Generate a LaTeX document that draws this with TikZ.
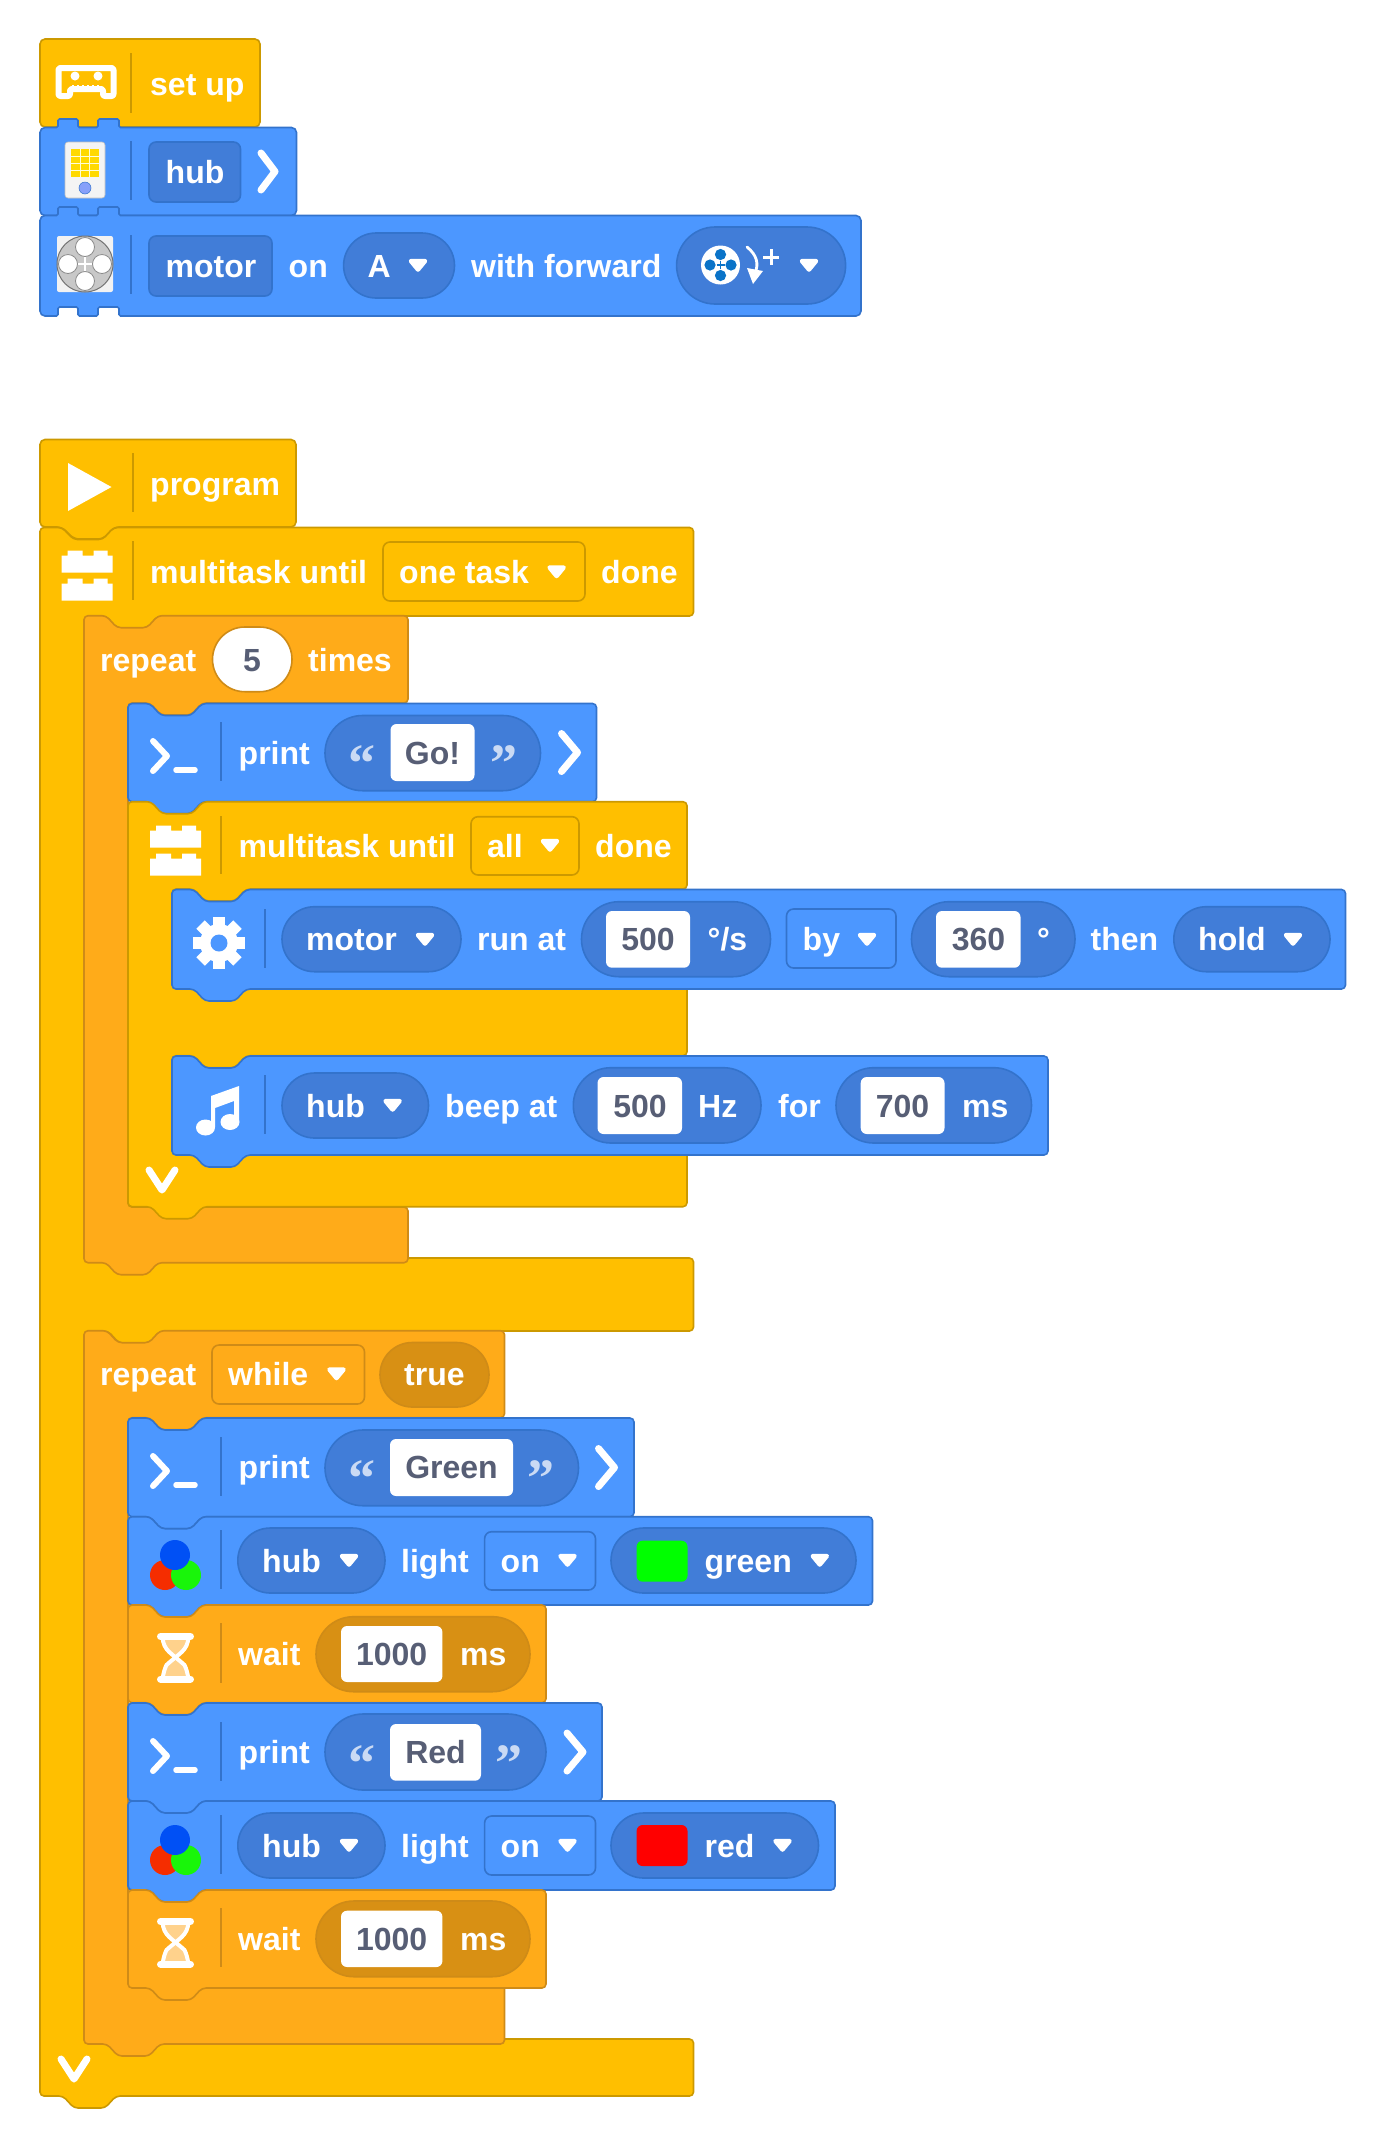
\documentclass[tikz,border=0pt]{standalone}
\usepackage{fontspec}
\setmainfont{Liberation Sans}
\newfontfamily\quotefont{Liberation Serif}
\usetikzlibrary{calc}
\definecolor{yel}{HTML}{FFBF00}
\definecolor{yelo}{HTML}{CC9900}
\definecolor{ora}{HTML}{FFAB19}
\definecolor{orao}{HTML}{CF8B17}
\definecolor{blu}{HTML}{4C97FF}
\definecolor{bluo}{HTML}{3373CC}
\definecolor{blud}{HTML}{417DD8}
\definecolor{orad}{HTML}{D89014}
\definecolor{ink}{HTML}{575E75}
\tikzset{
  yblock/.style={fill=yel,draw=yelo,line width=1.6pt},
  oblock/.style={fill=ora,draw=orao,line width=1.6pt},
  bblock/.style={fill=blu,draw=bluo,line width=1.6pt},
  wlabel/.style={text=white,font=\fontsize{32}{36}\selectfont\bfseries,inner sep=0pt,anchor=base west},
  dlabel/.style={text=ink,font=\fontsize{32}{36}\selectfont\bfseries,inner sep=0pt,anchor=base},
  qlabel/.style={text=white,opacity=.72,font=\fontsize{54}{60}\quotefont\bfseries,inner sep=0pt,anchor=base},
  sepy/.style={draw=yelo,line width=1.4pt},
  sepo/.style={draw=orao,line width=1.4pt},
  sepb/.style={draw=bluo,line width=1.4pt},
  bluepill/.style={fill=blud,draw=bluo,line width=1.6pt},
  orapill/.style={fill=orad,draw=orao,line width=1.6pt},
  whitepill/.style={fill=white,draw=orao,line width=1.6pt},
  bluefield/.style={fill=blu,draw=bluo,line width=1.6pt},
  yelfield/.style={fill=yel,draw=yelo,line width=1.6pt},
  orafield/.style={fill=ora,draw=orao,line width=1.6pt},
  darkfield/.style={fill=blud,draw=bluo,line width=1.6pt},
  inputbox/.style={fill=white,rounded corners=6pt},
  whitestroke/.style={draw=white,line width=7pt,line cap=round,line join=round},
}
\newcommand\stackbk[5]{% style L T R B
  \draw[#1,rounded corners=4pt] ({#2},{#5-10}) -- ({#2},{#3}) -- ({#2+22},{#3}) -- ({#2+33},{#3+12}) -- ({#2+63},{#3+12}) -- ({#2+74},{#3}) -- ({#4},{#3}) -- ({#4},{#5}) -- ({#2+74},{#5}) -- ({#2+63},{#5+12}) -- ({#2+33},{#5+12}) -- ({#2+22},{#5}) -- ({#2},{#5}) -- cycle;}
\newcommand\pillbox[5]{\pgfmathsetmacro\pr{(#5-#3)/2}\draw[#1,rounded corners=\pr pt] (#2,#3) rectangle (#4,#5);}
\newcommand\fieldbox[5]{\draw[#1,rounded corners=7pt] (#2,#3) rectangle (#4,#5);}
\newcommand\inbox[4]{\fill[inputbox] (#1,#2) rectangle (#3,#4);}
\newcommand\dropa[2]{\draw[white,fill=white,line width=4.5pt,line join=round] ({#1-7},{#2-4.5}) -- ({#1+7},{#2-4.5}) -- ({#1},{#2+4}) -- cycle;}
\newcommand\wtext[4]{\node[wlabel] (#1) at (#2,#3) {#4};}
\newcommand\dtext[4]{\node[dlabel] (#1) at (#2,#3) {#4};}
\newcommand\qtext[4]{\node[qlabel] (#1) at (#2,#3) {#4};}
\newcommand\chevr[2]{\draw[whitestroke] ({#1-8},{#2-19}) -- ({#1+8},{#2}) -- ({#1-8},{#2+19});}
\newcommand\chevd[2]{\draw[whitestroke] ({#1-13},{#2-10}) -- ({#1},{#2+10}) -- ({#1+13},{#2-10});}
\newcommand\consoleicon[2]{% x = left of chevron, y = center
  \draw[draw=white,line width=6pt,line cap=round,line join=round] ({#1+4},{#2-14}) -- ({#1+18},{#2+1}) -- ({#1+4},{#2+16});
  \draw[draw=white,line width=5.5pt,line cap=round] ({#1+27},{#2+15}) -- ({#1+46},{#2+15});}
\newcommand\brickicon[2]{% x left, y top
  \fill[white] ({#1},{#2+5}) -- ({#1+6},{#2+5}) -- ({#1+6},{#2}) -- ({#1+21},{#2}) -- ({#1+21},{#2+5}) -- ({#1+32},{#2+5}) -- ({#1+32},{#2}) -- ({#1+46},{#2}) -- ({#1+46},{#2+5}) -- ({#1+51},{#2+5}) -- ({#1+51},{#2+22}) -- ({#1},{#2+22}) -- cycle;
  \fill[white] ({#1},{#2+33}) -- ({#1+6},{#2+33}) -- ({#1+6},{#2+28}) -- ({#1+21},{#2+28}) -- ({#1+21},{#2+33}) -- ({#1+32},{#2+33}) -- ({#1+32},{#2+28}) -- ({#1+46},{#2+28}) -- ({#1+46},{#2+33}) -- ({#1+51},{#2+33}) -- ({#1+51},{#2+50}) -- ({#1},{#2+50}) -- cycle;}
\newcommand\rgbicon[2]{% center x of blue, center y of blue
  \fill[fill={rgb,255:red,245;green,45;blue,0}] ({#1-10},{#2+20}) ellipse [x radius=15,y radius=15];
  \fill[fill={rgb,255:red,25;green,245;blue,10}] ({#1+11},{#2+20}) ellipse [x radius=15,y radius=15];
  \fill[fill={rgb,255:red,0;green,80;blue,245}] ({#1},{#2}) ellipse [x radius=15,y radius=15];}
\newcommand\hglass[2]{% center x, top y
  \fill[fill={rgb,255:red,255;green,210;blue,140}] ({#1-14},{#2+4}) .. controls ({#1-12},{#2+14}) and ({#1-6},{#2+20}) .. ({#1},{#2+25}) .. controls ({#1+6},{#2+20}) and ({#1+12},{#2+14}) .. ({#1+14},{#2+4}) -- cycle;
  \fill[fill={rgb,255:red,255;green,210;blue,140}] ({#1-14},{#2+46}) .. controls ({#1-12},{#2+36}) and ({#1-6},{#2+30}) .. ({#1},{#2+25}) .. controls ({#1+6},{#2+30}) and ({#1+12},{#2+36}) .. ({#1+14},{#2+46}) -- cycle;
  \draw[draw=white,line width=4pt] ({#1-13},{#2+4}) .. controls ({#1-12},{#2+18}) and ({#1-4},{#2+20}) .. ({#1+9},{#2+32}) .. controls ({#1+11},{#2+36}) and ({#1+12},{#2+40}) .. ({#1+13},{#2+46});
  \draw[draw=white,line width=4pt] ({#1+13},{#2+4}) .. controls ({#1+12},{#2+18}) and ({#1+4},{#2+20}) .. ({#1-9},{#2+32}) .. controls ({#1-11},{#2+36}) and ({#1-12},{#2+40}) .. ({#1-13},{#2+46});
  \draw[draw=white,line width=7pt,line cap=round] ({#1-15},{#2+3.5}) -- ({#1+15},{#2+3.5});
  \draw[draw=white,line width=7pt,line cap=round] ({#1-15},{#2+46}) -- ({#1+15},{#2+46});}
\begin{document}
\begin{tikzpicture}[x=1pt,y=-1pt]
\fill[white] (0,0) rectangle (1385,2148);
\useasboundingbox (0,0) rectangle (1385,2148);

%%%% SET UP STACK
\draw[yblock,rounded corners=5pt] (40,60) -- (40,39) -- (260,39) -- (260,127) -- (40,127) -- cycle;
\draw[sepy] (131,53) -- (131,113);
\draw[draw=white,line width=6pt,line join=round,rounded corners=2pt] (70,96) -- (58.5,96) -- (58.5,68) -- (113.5,68) -- (113.5,96) -- (103,96) -- (103,89) -- (70,89) -- cycle;
\fill[white] (75,76) circle [radius=4.5];
\fill[white] (98,76) circle [radius=4.5];
\foreach \tx in {73,78,83,88,93,98} {\draw[white,line width=1.2pt] (\tx,85) -- (\tx,89);}
\wtext{setup}{150}{95}{set up}

\draw[bblock,rounded corners=5pt] (40,140) -- (40,127.5) [rounded corners=1.5pt] -- (58,127.5) -- (58,119) -- (78,119) -- (78,127.5) -- (98,127.5) -- (98,119) -- (119,119) -- (119,127.5) [rounded corners=5pt] -- (296.5,127.5) -- (296.5,215.5) -- (40,215.5) -- cycle;
\draw[sepb] (131,141) -- (131,200);
\draw[fill={rgb,255:red,244;green,244;blue,244},draw=black!25,line width=.6pt,rounded corners=3pt] (65,142) rectangle (105,198);
\fill[fill={rgb,255:red,255;green,217;blue,0}] (71,149) rectangle (98.5,177);
\foreach \gx in {80,89.5} {\draw[white!85!yellow,line width=.7pt] (\gx,149) -- (\gx,177);}
\foreach \gy in {156,163,170} {\draw[white!85!yellow,line width=.7pt] (71,\gy) -- (98.5,\gy);}
\draw[fill={rgb,255:red,135;green,160;blue,250},draw=bluo,line width=.5pt] (85,188) circle [radius=6];
\fieldbox{darkfield}{149}{142}{240.5}{202}
\wtext{hubtop}{165.5}{183}{hub}
\draw[draw=white,line width=7pt,line cap=round,line join=round] (261,153) -- (275,171.5) -- (261,190);

\draw[bblock,rounded corners=5pt] (40,230) -- (40,215.5) [rounded corners=1.5pt] -- (58,215.5) -- (58,207) -- (78,207) -- (78,215.5) -- (98,215.5) -- (98,207) -- (119,207) -- (119,215.5) [rounded corners=5pt] -- (861,215.5) -- (861,316) [rounded corners=1.5pt] -- (119,316) -- (119,307) -- (98,307) -- (98,316) -- (78,316) -- (78,307) -- (58,307) -- (58,316) [rounded corners=5pt] -- (40,316) -- cycle;
\draw[sepb] (131,235) -- (131,294);
\fill[fill={rgb,255:red,242;green,242;blue,242},rounded corners=2pt] (57,236) rectangle (113,292);
\draw[fill={rgb,255:red,200;green,200;blue,200},draw=black!55,line width=1pt] (85,264) circle [radius=28];
\foreach \ox/\oy in {0/-17,0/17,-17/0,17/0} {\draw[fill=white,draw=black!45,line width=.8pt] ($(85,264)+(\ox,\oy)$) circle [radius=9.5];}
\draw[white,line width=2.4pt] (78,264) -- (92,264);
\draw[white,line width=2.4pt] (85,257) -- (85,271);
\fieldbox{darkfield}{149}{236}{272}{296}
\wtext{mot1}{165.5}{277}{motor}
\wtext{on1}{288.5}{277}{on}
\pillbox{bluepill}{343.6}{233}{454.5}{298}
\wtext{afield}{367.5}{277}{A}
\dropa{418}{265.5}
\wtext{withf}{471}{277}{with forward}
\pillbox{bluepill}{676.6}{227}{845.6}{304}
\fill[white] (720.5,265) circle [radius=19.5];
\foreach \ox/\oy in {0/-10.5,0/10.5,-10.5/0,10.5/0} {\fill[fill={rgb,255:red,10;green,115;blue,200}] ($(720.5,265)+(\ox,\oy)$) circle [radius=5.6];}
\draw[draw={rgb,255:red,10;green,115;blue,200},line width=1.8pt] (716.5,265) -- (724.5,265);
\draw[draw={rgb,255:red,10;green,115;blue,200},line width=1.8pt] (720.5,261) -- (720.5,269);
\draw[white,line width=2.8pt,line cap=round] (747,247) .. controls (757,255) and (759,264) .. (755,273);
\fill[white] (747,268) -- (763,271) -- (753,284) -- cycle;
\draw[white,line width=3pt] (763,257) -- (779,257);
\draw[white,line width=3pt] (771,249) -- (771,265);
\dropa{809}{265.5}

%%%% PROGRAM HAT
\draw[yblock,rounded corners=5pt] (40,470) -- (40,439.5) -- (296,439.5) -- (296,527) -- (114,527) -- (103,539) -- (74,539) -- (62,527) -- (40,527) -- cycle;
\draw[sepy] (133,453) -- (133,512);
\fill[white] (68,463) -- (111.5,487) -- (68,511) -- cycle;
\wtext{prog}{150}{495}{program}

%%%% OUTER MULTITASK
\draw[yblock,rounded corners=4pt] (40,560) -- (40,527.5) -- (62,527.5) -- (73.6,539.5) -- (102.6,539.5) -- (113.8,527.5) -- (693.5,527.5) -- (693.5,616) -- (158,616) -- (147,628) -- (117,628) -- (106,616) -- (84.5,616) -- (84.5,1258) -- (693.5,1258) -- (693.5,1331) -- (160,1331) -- (149,1343) -- (119,1343) -- (108,1331) -- (84.5,1331) -- (84.5,2039) -- (693.5,2039) -- (693.5,2096) -- (116,2096) -- (105,2108) -- (74,2108) -- (63,2096) -- (40,2096) -- cycle;
\draw[sepy] (133,541) -- (133,600);
\brickicon{61.5}{550.5}
\wtext{mt1}{150}{583}{multitask until}
\fieldbox{yelfield}{383}{542}{585}{601}
\wtext{onetask}{399}{583}{one task}
\dropa{556.6}{572}
\wtext{done1}{601}{583}{done}
\chevd{74}{2069}

%%%% REPEAT 5
\draw[oblock,rounded corners=4pt] (84,640) -- (84,615.7) -- (106,615.7) -- (117,627.7) -- (147,627.7) -- (158,615.7) -- (408,615.7) -- (408,703) -- (202,703) -- (191,715) -- (161,715) -- (150,703) -- (128,703) -- (128,1207) -- (408,1207) -- (408,1262.7) -- (158,1262.7) -- (147,1274.7) -- (117,1274.7) -- (106,1262.7) -- (84,1262.7) -- cycle;
\wtext{rep1}{100}{671}{repeat}
\pillbox{whitepill}{212.5}{627}{292}{691.7}
\dtext{five}{252}{671}{5}
\wtext{times}{308}{671}{times}

%%%% PRINT GO
\stackbk{bblock}{128}{703.5}{596.5}{801.7}
\draw[sepb] (221,722) -- (221,781);
\consoleicon{149}{755}
\wtext{print1}{238.5}{764}{print}
\pillbox{bluepill}{325}{715.5}{540.5}{790.7}
\qtext{q1a}{361.5}{781}{“}
\inbox{390.5}{724}{474.5}{781}
\dtext{gotext}{432.5}{764}{Go!}
\qtext{q1b}{504}{781}{”}
\chevr{569.5}{752.5}

%%%% INNER MULTITASK
\draw[yblock,rounded corners=4pt] (128,830) -- (128,801.7) -- (151,801.7) -- (162,813.7) -- (192,813.7) -- (203,801.7) -- (687,801.7) -- (687,889) -- (246,889) -- (235,901) -- (205,901) -- (194,889) -- (172,889) -- (172,975) -- (687,975) -- (687,1055.7) -- (246,1055.7) -- (235,1067.7) -- (205,1067.7) -- (194,1055.7) -- (172,1055.7) -- (172,1140) -- (687,1140) -- (687,1206.7) -- (203,1206.7) -- (192,1218.7) -- (162,1218.7) -- (151,1206.7) -- (128,1206.7) -- cycle;
\draw[sepy] (221,816) -- (221,874);
\brickicon{150}{825.5}
\wtext{mt2}{238.5}{857}{multitask until}
\fieldbox{yelfield}{471}{816.7}{579}{875}
\wtext{alltxt}{487}{857}{all}
\dropa{550}{845.5}
\wtext{done2}{595}{857}{done}
\chevd{162}{1180}

%%%% MOTOR RUN
\stackbk{bblock}{172}{889.5}{1345.5}{989}
\draw[sepb] (265,909) -- (265,968);
\begin{scope}[shift={(219,943)}]
  \foreach \a in {0,45,...,315} {\fill[white,rotate=\a] (-6,-26) rectangle (6,-14);}
  \fill[white] (0,0) circle [radius=19];
  \fill[blu] (0,0) circle [radius=8.5];
\end{scope}
\pillbox{bluepill}{282}{906.7}{461}{971.7}
\wtext{mot2}{306}{950}{motor}
\dropa{425}{939.5}
\wtext{runat}{477}{950}{run at}
\pillbox{bluepill}{581.5}{901.7}{770.5}{976.7}
\inbox{606}{911}{690}{967.7}
\dtext{n500a}{648}{950}{500}
\wtext{degs}{707.5}{950}{°/s}
\fieldbox{bluefield}{786.5}{909}{896}{968}
\wtext{bytxt}{802.5}{950}{by}
\dropa{867}{939.5}
\pillbox{bluepill}{911.5}{901.7}{1075}{976.7}
\inbox{936}{911}{1020.5}{967.7}
\dtext{n360}{978.5}{950}{360}
\wtext{deg}{1037}{950}{°}
\wtext{then}{1090.5}{950}{then}
\pillbox{bluepill}{1173.8}{906.7}{1330}{971.7}
\wtext{hold}{1198}{950}{hold}
\dropa{1293}{939.5}

%%%% HUB BEEP
\stackbk{bblock}{172}{1056}{1048}{1155}
\draw[sepb] (265,1075) -- (265,1134);
\fill[white] (205.5,1127.5) ellipse [x radius=9.5,y radius=8];
\fill[white] (230,1122) ellipse [x radius=9.5,y radius=8];
\fill[white] (211,1127) -- (215,1127) -- (215,1108) -- (234,1101) -- (234,1122) -- (239,1122) -- (239,1086) -- (211,1096) -- cycle;
\pillbox{bluepill}{282}{1073}{428.5}{1138}
\wtext{hub2}{306}{1117}{hub}
\dropa{392.6}{1105.5}
\wtext{beep}{445}{1117}{beep at}
\pillbox{bluepill}{573.3}{1067.7}{761}{1143}
\inbox{597.5}{1077}{682}{1134}
\dtext{n500b}{640}{1117}{500}
\wtext{hz}{698}{1117}{Hz}
\wtext{fortxt}{778}{1117}{for}
\pillbox{bluepill}{836}{1067.7}{1031.5}{1143}
\inbox{860.7}{1077}{944.5}{1134}
\dtext{n700}{902.5}{1117}{700}
\wtext{ms1}{962}{1117}{ms}

%%%% REPEAT WHILE
\draw[oblock,rounded corners=4pt] (84,1360) -- (84,1330.7) -- (107,1330.7) -- (118,1342.7) -- (149,1342.7) -- (160,1330.7) -- (504.5,1330.7) -- (504.5,1417.7) -- (202,1417.7) -- (191,1429.7) -- (161,1429.7) -- (150,1417.7) -- (128,1417.7) -- (128,1980) -- (504.5,1980) -- (504.5,2044) -- (160,2044) -- (149,2056) -- (118,2056) -- (107,2044) -- (84,2044) -- cycle;
\wtext{rep2}{100}{1385}{repeat}
\fieldbox{orafield}{212}{1345}{364.5}{1404}
\wtext{whiletxt}{228}{1385}{while}
\dropa{336.5}{1374}
\pillbox{orapill}{380}{1342.5}{489}{1407}
\wtext{truetxt}{404}{1385}{true}

%%%% PRINT GREEN
\stackbk{bblock}{128}{1418}{634}{1516.7}
\draw[sepb] (221,1437) -- (221,1496);
\consoleicon{149}{1470}
\wtext{print2}{238.5}{1478}{print}
\pillbox{bluepill}{325}{1430}{578.5}{1505.7}
\qtext{q2a}{361.5}{1496}{“}
\inbox{390}{1439}{513}{1496}
\dtext{greent}{451.5}{1478}{Green}
\qtext{q2b}{541}{1496}{”}
\chevr{606.5}{1467.5}

%%%% LIGHT GREEN
\stackbk{bblock}{128}{1516.7}{872.5}{1605}
\draw[sepb] (221,1530) -- (221,1589);
\rgbicon{175}{1555}
\pillbox{bluepill}{237.8}{1528}{385}{1593}
\wtext{hub3}{262}{1572}{hub}
\dropa{349}{1560.5}
\wtext{light1}{401}{1572}{light}
\fieldbox{bluefield}{484.6}{1531.7}{595.5}{1590}
\wtext{on2}{500.5}{1572}{on}
\dropa{567.5}{1560.5}
\pillbox{bluepill}{611}{1528}{856}{1593}
\fill[fill={rgb,255:red,0;green,255;blue,0},rounded corners=6pt] (636.6,1540.7) rectangle (687.5,1581.7);
\wtext{greenlab}{704.5}{1572}{green}
\dropa{819.8}{1560.5}

%%%% WAIT 1
\stackbk{oblock}{128}{1605}{546}{1702.7}
\draw[sepo] (221,1623) -- (221,1682.7);
\hglass{175.5}{1633}
\wtext{wait1}{238}{1665}{wait}
\pillbox{orapill}{316}{1616.7}{530}{1691.7}
\inbox{341}{1626}{442.4}{1682}
\dtext{n1000a}{391.7}{1665}{1000}
\wtext{ms2}{460}{1665}{ms}

%%%% PRINT RED
\stackbk{bblock}{128}{1703}{602}{1801}
\draw[sepb] (221,1722) -- (221,1780.7);
\consoleicon{149}{1755}
\wtext{print3}{238.5}{1763}{print}
\pillbox{bluepill}{325}{1714}{546}{1790}
\qtext{q3a}{361.5}{1781}{“}
\inbox{390}{1724}{481}{1780.7}
\dtext{redt}{435.5}{1763}{Red}
\qtext{q3b}{509}{1781}{”}
\chevr{575}{1752}

%%%% LIGHT RED
\stackbk{bblock}{128}{1801}{835}{1890}
\draw[sepb] (221,1815) -- (221,1874);
\rgbicon{175}{1840}
\pillbox{bluepill}{237.8}{1813}{385}{1878}
\wtext{hub4}{262}{1857}{hub}
\dropa{349}{1845.5}
\wtext{light2}{401}{1857}{light}
\fieldbox{bluefield}{484.6}{1816}{595.5}{1875}
\wtext{on3}{500.5}{1857}{on}
\dropa{567.5}{1845.5}
\pillbox{bluepill}{611}{1813}{818.5}{1878}
\fill[fill={rgb,255:red,255;green,0;blue,0},rounded corners=6pt] (636.6,1825) rectangle (687.5,1866);
\wtext{redlab}{704.5}{1857}{red}
\dropa{782.5}{1845.5}

%%%% WAIT 2
\stackbk{oblock}{128}{1890}{546}{1988}
\draw[sepo] (221,1908) -- (221,1967);
\hglass{175.5}{1918}
\wtext{wait2}{238}{1950}{wait}
\pillbox{orapill}{316}{1901}{530}{1976.7}
\inbox{341}{1910.7}{442.4}{1967}
\dtext{n1000b}{391.7}{1950}{1000}
\wtext{ms3}{460}{1950}{ms}
\end{tikzpicture}
\end{document}
